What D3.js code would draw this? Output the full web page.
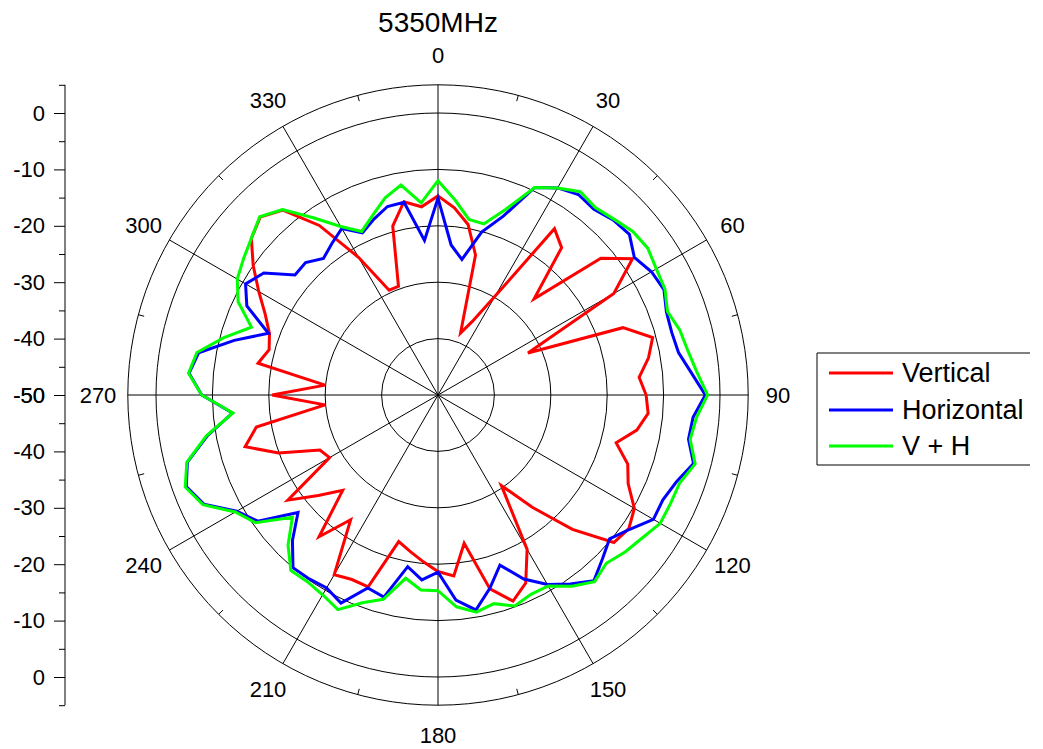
<!DOCTYPE html>
<html><head><meta charset="utf-8">
<script src="https://cdn.jsdelivr.net/npm/d3@7"></script>
<style>
body{margin:0;background:#fff;}
svg{display:block;font-family:"Liberation Sans",Arial,sans-serif;}
</style>
</head><body>
<svg id="chart" width="1043" height="749"></svg>
<script>
// ---------- data ----------
const angles = d3.range(0, 360, 5);
const vertical = [
 -14.7,-16.7,-19.3,-24.3,-38.3,-35.6,-29.8,-14.0,-15.9,-25.9,
 -12.3,-7.9,-14.0,-32.4,-15.1,-10.6,-12.1,-14.2,-13.1,-12.6,
 -14.2,-17.3,-14.2,-12.8,-9.8,-8.7,-9.3,-16.3,-24.0,-30.4,
 -18.4,-13.2,-11.1,-14.4,-23.3,-17.8,-18.7,-20.3,-21.8,-23.1,
 -13.8,-13.9,-13.2,-23.0,-17.2,-26.1,-22.3,-17.5,-27.8,-26.9,
 -19.9,-14.6,-17.3,-29.9,-20.6,-29.9,-17.6,-19.0,-18.2,-16.2,
 -13.3,-10.0,-6.8,-5.4,-7.2,-13.3,-21.8,-29.5,-29.5,-19.0,
 -15.2,-16.5];
const horizontal = [
 -15.1,-23.3,-25.6,-20.1,-16.3,-9.4,-7.6,-6.6,-7.0,-6.1,
 -5.7,-7.5,-6.3,-5.8,-6.9,-7.1,-6.7,-4.9,-2.6,-4.6,
 -4.9,-3.1,-5.0,-6.0,-5.9,-8.5,-10.3,-8.8,-7.0,-9.1,
 -11.2,-14.0,-17.9,-14.5,-11.3,-13.5,-18.6,-17.1,-19.1,-12.9,
 -13.6,-9.3,-10.5,-10.2,-10.0,-13.5,-17.6,-11.0,-8.8,-4.2,
 -2.5,-4.0,-8.5,-13.4,-8.1,-5.7,-6.9,-12.6,-18.0,-12.6,
 -10.6,-12.3,-16.9,-16.8,-18.4,-17.2,-15.9,-18.3,-16.8,-15.4,
 -15.3,-22.5];
const vPlusH = [
 -12.0,-15.3,-18.4,-18.6,-15.0,-9.4,-7.6,-6.0,-6.6,-5.9,
 -4.9,-4.6,-5.3,-5.6,-6.7,-5.6,-5.0,-3.9,-2.2,-4.0,
 -4.6,-2.8,-4.4,-4.5,-4.5,-5.8,-6.7,-7.8,-6.8,-8.6,
 -10.9,-11.0,-10.2,-11.7,-10.9,-12.3,-15.3,-15.3,-17.0,-12.5,
 -10.8,-8.0,-9.1,-9.6,-9.4,-12.4,-16.3,-10.5,-8.5,-4.0,
 -2.3,-3.9,-8.3,-13.5,-8.1,-5.6,-6.6,-10.7,-14.8,-10.9,
 -8.9,-7.9,-6.8,-5.3,-7.1,-11.7,-15.5,-18.0,-16.1,-13.8,
 -12.2,-15.8];
const seriesNames = ["Vertical", "Horizontal", "V + H"];
const seriesColors = ["#ff0000", "#0000ff", "#00ff00"];
const angleTicks = d3.range(0, 360, 30);
const angleMinorTicks = d3.range(15, 360, 30);
const radialTicks = [0, -10, -20, -30, -40, -50];
const radialMinorTicks = [5, -5, -15, -25, -35, -45];
const radialGrid = [-40, -30, -20, -10, 0, 5];
const titleText = "5350MHz";

// ---------- layout ----------
const svg = d3.select("#chart");
const cx = 438, cy = 395;
const rOuter = 310.2;
const r = d3.scaleLinear().domain([-50, 5]).range([0, rOuter]);
const toRad = d => d * Math.PI / 180;

const g = svg.append("g").attr("transform", `translate(${cx},${cy})`);

// grid circles
g.selectAll("circle.grid").data(radialGrid).enter().append("circle")
  .attr("r", d => r(d)).attr("fill", "none").attr("stroke", "#000").attr("stroke-width", 1);

// spokes
g.selectAll("line.spoke").data(angleTicks).enter().append("line")
  .attr("x1", 0).attr("y1", 0)
  .attr("x2", d => rOuter * Math.sin(toRad(d)))
  .attr("y2", d => -rOuter * Math.cos(toRad(d)))
  .attr("stroke", "#000").attr("stroke-width", 1);

// minor ticks on outer circle
g.selectAll("line.mt").data(angleMinorTicks).enter().append("line")
  .attr("x1", d => rOuter * Math.sin(toRad(d)))
  .attr("y1", d => -rOuter * Math.cos(toRad(d)))
  .attr("x2", d => (rOuter - 6) * Math.sin(toRad(d)))
  .attr("y2", d => -(rOuter - 6) * Math.cos(toRad(d)))
  .attr("stroke", "#000").attr("stroke-width", 1);

// angle labels
g.selectAll("text.ang").data(angleTicks).enter().append("text")
  .attr("x", d => 340 * Math.sin(toRad(d)))
  .attr("y", d => -340 * Math.cos(toRad(d)))
  .attr("text-anchor", "middle").attr("dominant-baseline", "central")
  .attr("font-size", 22).attr("fill", "#000")
  .text(d => d);

// data lines
const series = [vertical, horizontal, vPlusH];
const line = d3.lineRadial()
  .angle((d, i) => toRad(angles[i]))
  .radius(d => r(d))
  .curve(d3.curveLinearClosed);
series.forEach((s, k) => {
  g.append("path").attr("d", line(s))
    .attr("fill", "none").attr("stroke", seriesColors[k])
    .attr("stroke-width", 3).attr("stroke-linejoin", "miter");
});

// left radial axis (mirrored)
const axX = 65;
const yTop = d3.scaleLinear().domain([-50, 5]).range([cy, cy - rOuter]);
const yBot = d3.scaleLinear().domain([-50, 5]).range([cy, cy + rOuter]);
const ax = svg.append("g");
ax.append("line").attr("x1", axX).attr("x2", axX)
  .attr("y1", yTop(5)).attr("y2", yBot(5)).attr("stroke", "#000").attr("stroke-width", 1);
[yTop, yBot].forEach(sc => {
  const axis = d3.axisLeft(sc).tickValues(radialTicks).tickSize(11).tickPadding(9).tickFormat(d => d);
  const ga = ax.append("g").attr("transform", `translate(${axX},0)`).call(axis);
  ga.select(".domain").remove();
  ga.selectAll("text").attr("font-size", 22).attr("font-family", "Liberation Sans, Arial, sans-serif").attr("fill", "#000");
  ga.selectAll("line").attr("stroke", "#000");
  const axisMinor = d3.axisLeft(sc).tickValues(radialMinorTicks).tickSize(6).tickFormat("");
  const gm = ax.append("g").attr("transform", `translate(${axX},0)`).call(axisMinor);
  gm.select(".domain").remove();
  gm.selectAll("line").attr("stroke", "#000");
});

// title
svg.append("text").attr("x", cx).attr("y", 22)
  .attr("text-anchor", "middle").attr("dominant-baseline", "central")
  .attr("font-size", 28).attr("fill", "#000").text(titleText);

// legend
const lg = svg.append("g");
const lx0 = 817, ly0 = 353, lx1 = 1030, ly1 = 465;
lg.append("path")
  .attr("d", `M${lx1},${ly0}H${lx0}V${ly1}H${lx1}`)
  .attr("fill", "none").attr("stroke", "#000").attr("stroke-width", 1);
const legY = [373, 410, 446];
seriesNames.forEach((n, k) => {
  lg.append("line").attr("x1", 829).attr("x2", 893).attr("y1", legY[k]).attr("y2", legY[k])
    .attr("stroke", seriesColors[k]).attr("stroke-width", 3);
  lg.append("text").attr("x", 902).attr("y", legY[k]).attr("dominant-baseline", "central")
    .attr("font-size", 27).attr("fill", "#000").text(n);
});
</script>
</body></html>
